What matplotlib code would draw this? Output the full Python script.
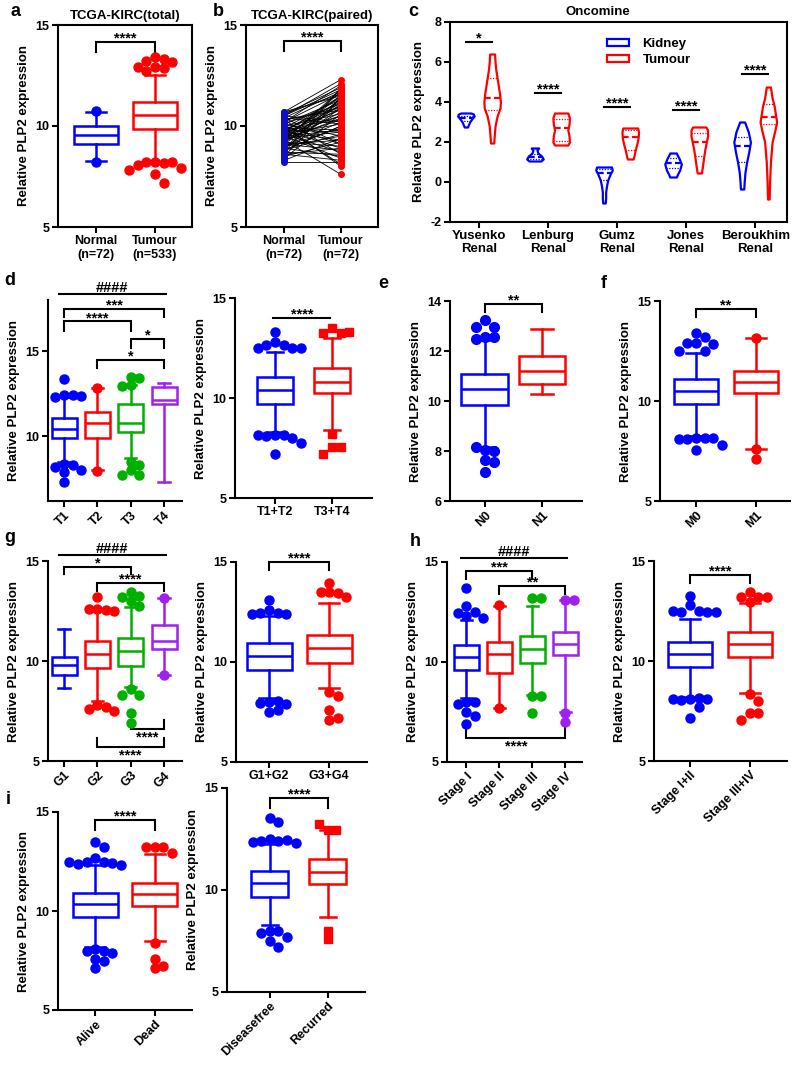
import numpy as np
import matplotlib
matplotlib.use('Agg')
import matplotlib.pyplot as plt
from matplotlib.patches import Patch

plt.rcParams['font.family'] = ['Liberation Sans', 'DejaVu Sans']
plt.rcParams['font.weight'] = 'bold'
plt.rcParams['axes.labelweight'] = 'bold'
plt.rcParams['axes.titleweight'] = 'bold'
plt.rcParams['axes.linewidth'] = 1.5
plt.rcParams['xtick.major.width'] = 1.5
plt.rcParams['ytick.major.width'] = 1.5
plt.rcParams['xtick.major.size'] = 4
plt.rcParams['ytick.major.size'] = 4
plt.rcParams['xtick.labelsize'] = 9
plt.rcParams['ytick.labelsize'] = 9
plt.rcParams['axes.unicode_minus'] = False

W, H = 794, 1066
BLUE, RED, GREEN, PURPLE = '#0000ff', '#ff0000', '#00b000', '#a020f0'
YLAB = 'Relative PLP2 expression'

# ---- data (box stats are whisker low, q1, median, q3, whisker high) ----
a_labels = ['Normal\n(n=72)', 'Tumour\n(n=533)']
a_box = [[8.25, 9.1, 9.55, 10.0, 10.7], [8.2, 9.85, 10.55, 11.2, 12.5]]
a_out = [[10.75, 8.2],
         [13.4, 13.3, 13.2, 13.15, 12.9, 12.85, 12.7, 12.9,
          8.2, 8.15, 8.2, 8.2, 8.05, 7.9, 7.8, 7.6, 7.2]]

b_labels = ['Normal\n(n=72)', 'Tumour\n(n=72)']
b_normal = [10.7, 10.7, 10.6, 10.5, 10.5, 10.4, 10.4, 10.3, 10.3, 10.2,
            10.2, 10.1, 10.1, 10.0, 10.0, 9.9, 9.9, 9.9, 9.8, 9.8,
            9.7, 9.7, 9.7, 9.6, 9.6, 9.5, 9.5, 9.5, 9.4, 9.4,
            9.3, 9.3, 9.3, 9.2, 9.2, 9.1, 9.1, 9.0, 9.0, 8.9,
            8.9, 8.8, 8.8, 8.7, 8.6, 8.5, 8.4, 8.3, 8.2, 10.6,
            10.3, 10.0, 9.8, 9.6, 9.4, 9.2, 9.0, 8.8, 8.6, 10.5,
            10.1, 9.9, 9.7, 9.5, 9.3, 9.1, 8.9, 8.7, 8.5, 10.4,
            9.8, 9.4]
b_tumour = [12.3, 11.5, 11.9, 10.2, 11.8, 9.1, 11.7, 10.9, 8.6, 11.6,
            12.0, 9.5, 11.1, 10.6, 8.0, 11.4, 10.3, 9.8, 11.2, 8.9,
            10.8, 11.5, 9.3, 10.1, 11.0, 8.4, 10.5, 11.3, 9.7, 10.9,
            7.6, 10.4, 11.8, 9.0, 10.7, 8.8, 11.1, 9.9, 10.2, 8.5,
            11.4, 9.6, 10.0, 11.9, 8.3, 9.2, 10.6, 9.4, 8.2, 11.6,
            10.8, 9.1, 11.0, 8.7, 10.3, 11.2, 9.5, 10.0, 8.9, 12.1,
            11.3, 8.1, 10.5, 9.8, 11.7, 9.3, 10.9, 8.6, 11.4, 10.1,
            9.7, 11.5]

c_datasets = ['Yusenko\nRenal', 'Lenburg\nRenal', 'Gumz\nRenal', 'Jones\nRenal', 'Beroukhim\nRenal']
c_sig = ['*', '****', '****', '****', '****']
c_sig_y = [7.0, 4.45, 3.75, 3.6, 5.4]
# violin outlines: y levels and relative half widths
c_kidney_y = [[2.75, 2.85, 3.0, 3.15, 3.3, 3.4, 3.45],
              [1.05, 1.15, 1.3, 1.45, 1.6, 1.7],
              [-1.05, -0.8, -0.5, -0.2, 0.1, 0.4, 0.6, 0.75],
              [0.25, 0.4, 0.6, 0.9, 1.2, 1.35, 1.45],
              [-0.35, 0.0, 0.5, 1.0, 1.5, 2.0, 2.5, 3.0]]
c_kidney_w = [[0.2, 0.3, 0.45, 0.7, 1.0, 0.9, 0.6],
              [0.7, 1.0, 0.8, 0.35, 0.25, 0.45],
              [0.15, 0.2, 0.2, 0.3, 0.45, 0.75, 1.0, 0.9],
              [0.4, 0.55, 0.8, 1.0, 0.7, 0.5, 0.4],
              [0.2, 0.25, 0.35, 0.55, 0.8, 1.0, 0.75, 0.3]]
c_kidney_q = [[3.05, 3.2, 3.3], [1.15, 1.25, 1.4], [0.1, 0.45, 0.65],
              [0.7, 0.95, 1.2], [1.0, 1.8, 2.25]]
c_tumour_y = [[1.95, 2.3, 2.8, 3.3, 3.7, 4.0, 4.4, 4.8, 5.2, 5.6, 6.0, 6.4],
              [1.85, 2.0, 2.3, 2.6, 2.9, 3.2, 3.45],
              [1.15, 1.3, 1.6, 1.9, 2.2, 2.5, 2.7],
              [0.45, 0.7, 1.0, 1.3, 1.7, 2.0, 2.3, 2.6, 2.75],
              [-0.85, 0.0, 1.0, 2.0, 2.6, 3.0, 3.4, 3.8, 4.2, 4.75]]
c_tumour_w = [[0.2, 0.25, 0.35, 0.6, 0.95, 1.0, 0.9, 0.75, 0.6, 0.45, 0.35, 0.3],
              [0.8, 1.0, 0.95, 0.8, 0.95, 1.0, 0.8],
              [0.35, 0.45, 0.6, 0.8, 0.95, 1.0, 0.9],
              [0.25, 0.35, 0.45, 0.55, 0.7, 0.85, 1.0, 1.0, 0.8],
              [0.1, 0.15, 0.25, 0.45, 0.8, 1.0, 0.85, 0.7, 0.45, 0.25]]
c_tumour_q = [[3.6, 4.2, 5.2], [2.05, 2.7, 3.15], [1.6, 2.25, 2.6],
              [1.3, 2.0, 2.45], [2.9, 3.25, 3.9]]

d1_labels = ['T1', 'T2', 'T3', 'T4']
d1_box = [[8.5, 9.9, 10.45, 11.05, 12.3], [8.0, 9.9, 10.75, 11.45, 12.85],
          [8.7, 10.25, 10.8, 11.9, 13.0], [7.3, 11.9, 12.15, 12.9, 13.15]]
d1_out = [[13.35, 12.45, 12.4, 12.3, 12.35, 8.4, 8.3, 8.2, 8.0, 7.9, 7.3],
          [12.85, 7.95],
          [13.5, 13.4, 13.0, 12.95, 8.5, 8.3, 8.0, 7.7, 7.7],
          []]
d2_labels = ['T1+T2', 'T3+T4']
d2_box = [[8.3, 9.7, 10.4, 11.05, 12.3], [8.4, 10.25, 10.8, 11.5, 13.0]]
d2_out = [[13.3, 12.8, 12.65, 12.65, 12.5, 12.5, 12.5,
           8.15, 8.15, 8.1, 8.0, 8.15, 7.75, 7.2],
          [13.5, 13.25, 13.25, 13.3, 8.2, 7.55, 7.55, 7.2]]

e_labels = ['N0', 'N1']
e_box = [[8.15, 9.84, 10.48, 11.08, 12.45], [10.28, 10.68, 11.2, 11.8, 12.88]]
e_out = [[13.24, 12.96, 12.96, 12.55, 12.55, 12.48, 8.04, 8.0, 8.16, 7.64, 7.55, 7.16], []]

f_labels = ['M0', 'M1']
f_box = [[8.25, 9.85, 10.5, 11.1, 12.4], [7.6, 10.4, 10.95, 11.5, 13.15]]
f_out = [[13.4, 13.2, 12.9, 12.9, 12.85, 12.5, 12.5,
          8.15, 8.15, 8.1, 8.15, 8.1, 7.8, 7.55],
         [13.15, 7.6, 7.1]]

g1_labels = ['G1', 'G2', 'G3', 'G4']
g1_box = [[8.65, 9.3, 9.8, 10.2, 11.6], [8.0, 9.65, 10.35, 11.0, 12.5],
          [8.7, 9.75, 10.5, 11.15, 12.7], [9.3, 10.6, 11.0, 11.8, 13.15]]
g1_out = [[],
          [13.2, 12.6, 12.55, 12.6, 12.5, 7.8, 7.7, 7.6, 7.5],
          [13.45, 13.25, 13.2, 13.0, 12.75, 8.6, 8.3, 8.3, 7.4, 6.9],
          [13.15, 9.3]]
g2_labels = ['G1+G2', 'G3+G4']
g2_box = [[8.2, 9.6, 10.3, 10.95, 12.3], [8.7, 9.95, 10.7, 11.35, 12.95]]
g2_out = [[13.1, 12.6, 12.45, 12.45, 12.4, 12.4, 8.0, 8.05, 7.95, 7.9, 7.6, 7.5],
          [13.95, 13.5, 13.45, 13.5, 13.25, 8.5, 8.3, 7.6, 7.2, 7.1]]

h1_labels = ['Stage I', 'Stage II', 'Stage III', 'Stage IV']
h1_box = [[8.2, 9.6, 10.27, 10.85, 12.1], [7.7, 9.45, 10.4, 11.0, 12.8],
          [8.35, 9.95, 10.63, 11.3, 12.8], [7.5, 10.35, 10.9, 11.5, 13.1]]
h1_out = [[13.7, 12.8, 12.5, 12.45, 12.3, 12.2, 8.0, 8.0, 7.9, 7.5, 7.3, 6.9],
          [12.85, 7.7],
          [13.2, 13.2, 8.3, 8.3, 7.45],
          [13.1, 13.1, 7.45, 7.0]]
h2_labels = ['Stage I+II', 'Stage III+IV']
h2_box = [[8.2, 9.7, 10.33, 10.95, 12.1], [8.4, 10.2, 10.83, 11.45, 12.9]]
h2_out = [[13.23, 12.78, 12.5, 12.47, 12.45, 12.5, 12.47, 8.1, 8.15, 8.05, 8.1, 8.1, 7.7, 7.13],
          [13.43, 13.2, 13.2, 13.2, 12.95, 8.35, 8.0, 7.4, 7.4, 7.05]]

i1_labels = ['Alive', 'Dead']
i1_box = [[8.2, 9.7, 10.34, 10.93, 12.3], [8.5, 10.25, 10.85, 11.4, 12.9]]
i1_out = [[13.47, 13.25, 12.67, 12.5, 12.45, 12.4, 12.35, 12.3, 12.5,
           8.1, 8.0, 8.0, 7.9, 7.6, 7.5, 7.1],
          [13.25, 13.25, 13.25, 12.95, 8.4, 7.6, 7.2, 7.1]]
i2_labels = ['Diseasefree', 'Recurred']
i2_box = [[8.3, 9.67, 10.33, 10.94, 12.27], [8.7, 10.28, 10.9, 11.51, 12.92]]
i2_out = [[13.53, 13.31, 12.5, 12.4, 12.4, 12.45, 12.35, 12.3, 8.0, 8.0, 7.9, 7.7, 7.5, 7.2],
          [12.92, 12.92, 13.25, 8.0, 7.6]]

fig = plt.figure(figsize=(W / 100, H / 100), dpi=100)


def px_axes(l, r, t, b, xlim, ylim, yticks, frame=False):
    ax = fig.add_axes([l / W, 1 - b / H, (r - l) / W, (b - t) / H])
    if not frame:
        ax.spines[['top', 'right']].set_visible(False)
    ax.set_xlim(*xlim)
    ax.set_ylim(*ylim)
    ax.set_yticks(yticks)
    ax.tick_params(direction='out', pad=2)
    ax.set_ylabel(YLAB, fontsize=9.5)
    return ax


def swarm(ax, x0, vals, d):
    # put outliers side by side so they don't sit on top of each other
    tr = ax.transData
    cx = tr.transform((x0, 0))[0]
    placed = []
    for v in vals:
        py = tr.transform((x0, v))[1]
        k = 0
        while True:
            off = (k + 1) // 2 * (1 if k % 2 else -1)
            px = cx + off * d * 0.95
            if all((px - qx) ** 2 + (py - qy) ** 2 >= (d * 0.9) ** 2 for qx, qy in placed):
                break
            k += 1
        placed.append((px, py))
    pts = tr.inverted().transform(placed)
    return pts[:, 0], pts[:, 1]


def draw_boxes(ax, stats, outs, colors, width=0.75, marker='o', ms=6.5):
    pos = np.arange(1, len(stats) + 1)
    bs = [dict(whislo=s[0], q1=s[1], med=s[2], q3=s[3], whishi=s[4], fliers=[]) for s in stats]
    art = ax.bxp(bs, positions=pos, widths=width, capwidths=width * 0.45,
                 patch_artist=True, showfliers=False, manage_ticks=False)
    lw = 1.8
    for i, c in enumerate(colors):
        art['boxes'][i].set(facecolor='white', edgecolor=c, linewidth=lw)
        art['medians'][i].set(color=c, linewidth=lw)
        for k in (2 * i, 2 * i + 1):
            art['whiskers'][k].set(color=c, linewidth=lw)
            art['caps'][k].set(color=c, linewidth=lw)
        if outs[i]:
            xs, ys = swarm(ax, pos[i], outs[i], ms * 100 / 72)
            ax.plot(xs, ys, ls='none', marker=marker, ms=ms, color=c, clip_on=False, zorder=3)


def bracket(ax, x1, x2, y, h, text, below=False, fs=10.5):
    s = 1 if below else -1
    ax.plot([x1, x1, x2, x2], [y + s * h, y, y, y + s * h], color='k', lw=1.5,
            clip_on=False, solid_joinstyle='miter')
    if below:
        ax.annotate(text, ((x1 + x2) / 2, y), xytext=(0, -1), textcoords='offset points',
                    ha='center', va='top', fontsize=fs, annotation_clip=False)
    else:
        dy = 1.5 if text.startswith('#') else -0.5
        ax.annotate(text, ((x1 + x2) / 2, y), xytext=(0, dy), textcoords='offset points',
                    ha='center', va='baseline', fontsize=fs, annotation_clip=False)


def set_xlabels(ax, labels, rot=False):
    ax.set_xticks(np.arange(1, len(labels) + 1))
    if rot:
        ax.set_xticklabels(labels, rotation=45, ha='right', rotation_mode='anchor')
    else:
        ax.set_xticklabels(labels)


# a
ax = px_axes(58, 192, 25, 227, (0.35, 2.63), (5, 15), [5, 10, 15], frame=True)
draw_boxes(ax, a_box, a_out, [BLUE, RED])
set_xlabels(ax, a_labels)
bracket(ax, 1, 2, 14.15, 0.5, '****')
ax.set_title('TCGA-KIRC(total)', fontsize=9.5, pad=4)

# b
ax = px_axes(246, 378, 25, 227, (0.33, 2.65), (5, 15), [5, 10, 15], frame=True)
for n, t in zip(b_normal, b_tumour):
    ax.plot([1, 2], [n, t], color='k', lw=0.6, zorder=2)
ax.plot(np.ones(len(b_normal)), b_normal, 'o', color='#1010c0', ms=4, zorder=3)
ax.plot(np.full(len(b_tumour), 2), b_tumour, 'o', color=RED, ms=4, zorder=3)
set_xlabels(ax, b_labels)
bracket(ax, 1, 2, 14.2, 0.5, '****')
ax.set_title('TCGA-KIRC(paired)', fontsize=9.5, pad=4)

# c
ax = px_axes(450, 787, 22, 222, (-0.42, 4.46), (-2, 8), [-2, 0, 2, 4, 6, 8], frame=True)
for i in range(len(c_datasets)):
    for sgn, ys, ws, qs, col in ((-1, c_kidney_y[i], c_kidney_w[i], c_kidney_q[i], BLUE),
                                  (1, c_tumour_y[i], c_tumour_w[i], c_tumour_q[i], RED)):
        x = i + sgn * 0.19
        ys = np.array(ys)
        ws = np.array(ws)
        vp = [dict(coords=ys, vals=ws, mean=qs[1], median=qs[1], min=ys[0], max=ys[-1])]
        parts = ax.violin(vp, positions=[x], widths=0.24, showextrema=False)
        for body in parts['bodies']:
            body.set_facecolor('white')
            body.set_edgecolor(col)
            body.set_linewidth(1.6)
            body.set_alpha(1)
        for j, q in enumerate(qs):
            hw = np.interp(q, ys, ws) / ws.max() * 0.12
            if j == 1:
                ax.plot([x - hw, x + hw], [q, q], color=col, lw=1.6, ls=(0, (3, 1.5)))
            else:
                ax.plot([x - hw, x + hw], [q, q], color=col, lw=0.9, ls=(0, (1, 1.2)))
    bracket(ax, i - 0.19, i + 0.19, c_sig_y[i], 0, c_sig[i])
ax.set_xticks(np.arange(len(c_datasets)))
ax.set_xticklabels(c_datasets, fontsize=9.5, linespacing=1.05)
ax.text(0.44, 1.02, 'Oncomine', transform=ax.transAxes, ha='center', va='bottom', fontsize=9.5)
ax.legend(handles=[Patch(facecolor='white', edgecolor=BLUE, lw=1.6, label='Kidney'),
                   Patch(facecolor='white', edgecolor=RED, lw=1.6, label='Tumour')],
          loc='upper left', bbox_to_anchor=(0.43, 0.98), frameon=False, fontsize=9.5,
          handlelength=1.7, handleheight=0.45, labelspacing=0.3, handletextpad=1.0)

# d left
ax = px_axes(48, 182, 300, 501, (0.52, 4.54), (6.2, 18), [10, 15])
draw_boxes(ax, d1_box, d1_out, [BLUE, RED, GREEN, PURPLE])
set_xlabels(ax, d1_labels, rot=True)
bracket(ax, 0.85, 4.05, 18.35, 0, '####')
bracket(ax, 1, 4, 17.5, 0.5, '***')
bracket(ax, 1, 3, 16.75, 0.55, '****')
bracket(ax, 3, 4, 15.7, 0.5, '*')
bracket(ax, 2, 4, 14.5, 0.5, '*')

# d right
ax = px_axes(235, 372, 298, 498, (0.3, 2.7), (5, 15), [5, 10, 15])
draw_boxes(ax, d2_box, d2_out, [BLUE, RED], width=0.64)
ax.lines[-1].set_marker('s')
ax.lines[-1].set_markersize(5.5)
set_xlabels(ax, d2_labels)
bracket(ax, 0.97, 1.97, 14.0, 0, '****')

# e
ax = px_axes(450, 582, 301, 501, (0.39, 2.7), (6, 14), [6, 8, 10, 12, 14])
draw_boxes(ax, e_box, e_out, [BLUE, RED], width=0.82, ms=7)
set_xlabels(ax, e_labels, rot=True)
bracket(ax, 1, 2, 13.9, 0.35, '**')

# f
ax = px_axes(660, 790, 301, 501, (0.4, 2.57), (5, 15), [5, 10, 15])
draw_boxes(ax, f_box, f_out, [BLUE, RED], width=0.74)
set_xlabels(ax, f_labels, rot=True)
bracket(ax, 1, 2, 14.6, 0.4, '**')

# g left
ax = px_axes(48, 182, 561, 761, (0.52, 4.54), (5, 15), [5, 10, 15])
draw_boxes(ax, g1_box, g1_out, [BLUE, RED, GREEN, PURPLE])
set_xlabels(ax, g1_labels, rot=True)
bracket(ax, 0.85, 4.05, 15.3, 0, '####')
bracket(ax, 1, 3, 14.7, 0.35, '*')
bracket(ax, 2, 4, 13.9, 0.4, '****')
bracket(ax, 3, 4, 6.6, 0.45, '****', below=True)
bracket(ax, 2, 4, 5.7, 0.45, '****', below=True)

# g right
ax = px_axes(236, 367, 562, 762, (0.45, 2.63), (5, 15), [5, 10, 15])
draw_boxes(ax, g2_box, g2_out, [BLUE, RED])
set_xlabels(ax, g2_labels)
bracket(ax, 1, 2, 15.0, 0.4, '****')

# h left
ax = px_axes(447, 582, 562, 762, (0.42, 4.5), (5, 15), [5, 10, 15])
draw_boxes(ax, h1_box, h1_out, [BLUE, RED, GREEN, PURPLE])
set_xlabels(ax, h1_labels, rot=True)
bracket(ax, 0.85, 4.05, 15.2, 0, '####')
bracket(ax, 1, 3, 14.55, 0.4, '***')
bracket(ax, 2, 4, 13.8, 0.4, '**')
bracket(ax, 1, 4, 6.2, 0.6, '****', below=True)

# h right
ax = px_axes(654, 787, 561, 761, (0.4, 2.62), (5, 15), [5, 10, 15])
draw_boxes(ax, h2_box, h2_out, [BLUE, RED], width=0.73)
set_xlabels(ax, h2_labels, rot=True)
bracket(ax, 1, 2, 14.3, 0.4, '****')

# i left
ax = px_axes(58, 192, 812, 1010, (0.38, 2.62), (5, 15), [5, 10, 15])
draw_boxes(ax, i1_box, i1_out, [BLUE, RED])
set_xlabels(ax, i1_labels, rot=True)
bracket(ax, 1, 2, 14.6, 0.5, '****')

# i right
ax = px_axes(227, 365, 788, 992, (0.26, 2.64), (5, 15), [5, 10, 15])
draw_boxes(ax, i2_box, i2_out, [BLUE, RED], width=0.64)
ax.lines[-1].set_marker('s')
ax.lines[-1].set_markersize(5.5)
set_xlabels(ax, i2_labels, rot=True)
bracket(ax, 1, 2, 14.5, 0.5, '****')

for letter, x, y in [('a', 15, 12), ('b', 218, 12), ('c', 413, 12), ('d', 10, 280),
                     ('e', 383, 284), ('f', 604, 284), ('g', 10, 537), ('h', 415, 541),
                     ('i', 8, 800)]:
    fig.text(x / W, 1 - y / H, letter, fontsize=13, ha='center', va='center')

fig.savefig('out.png', dpi=100)
